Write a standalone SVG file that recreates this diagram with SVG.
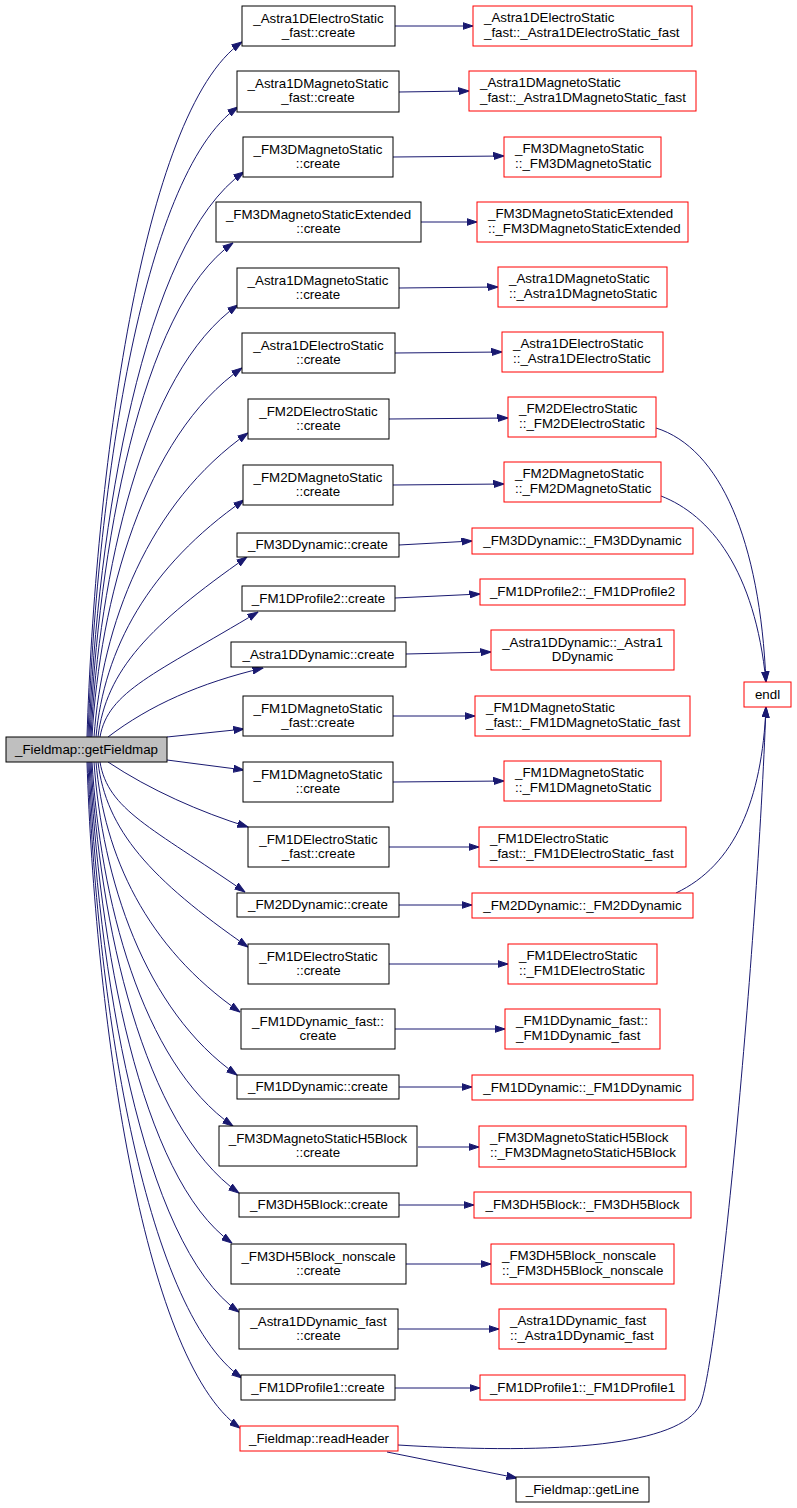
<svg xmlns="http://www.w3.org/2000/svg" width="797" height="1508" viewBox="0 0 797 1508">
<style>
text{font-family:"Liberation Sans",Arial,Helvetica,sans-serif;font-size:13.33px;fill:#000}
.c{text-anchor:middle}
.l{text-anchor:start}
.nb{fill:#fff;stroke:#000;stroke-width:1}
.nr{fill:#fff;stroke:#ff0000;stroke-width:1}
.root{fill:#bfbfbf;stroke:#000;stroke-width:1}
.e{fill:none;stroke:#191970;stroke-width:1;marker-end:url(#ah)}
</style>
<defs>
<marker id="ah" markerUnits="userSpaceOnUse" markerWidth="11" markerHeight="8" viewBox="0 0 11 8" refX="10.5" refY="4" orient="auto">
<path d="M0,0.5 L10.5,4 L0,7.5 z" fill="#191970" stroke="#191970" stroke-width="1"/>
</marker>
</defs>
<rect width="797" height="1508" fill="#fff"/>
<g id="connectors">
<path class="e" d="M87,737 C95,480 141,112 242,42"/>
<path class="e" d="M88,737 C96,504 140,175 238,107"/>
<path class="e" d="M89,737 C97,528 143,242 244,172"/>
<path class="e" d="M90,737 C98,554 140,308 233,243"/>
<path class="e" d="M91,737 C99,577 142,372 238,305"/>
<path class="e" d="M92,737 C100,600 144,436 242,368"/>
<path class="e" d="M94,737 C102,625 148,503 248,433"/>
<path class="e" d="M96,737 C104,649 148,567 244,500"/>
<path class="e" d="M98,737 C106,670 150,625 247,557"/>
<path class="e" d="M100,737 C108,691 155,674 258,612"/>
<path class="e" d="M108,737 C150,705 200,683 263,668"/>
<path class="e" d="M167,737 L244,729"/>
<path class="e" d="M167,760 L244,770"/>
<path class="e" d="M108,762 C150,790 200,812 248,827"/>
<path class="e" d="M100,762 C108,810 151,827 245,892"/>
<path class="e" d="M98,762 C106,830 150,879 248,947"/>
<path class="e" d="M96,762 C104,855 146,947 240,1012"/>
<path class="e" d="M94,762 C102,878 144,1010 237,1075"/>
<path class="e" d="M92,762 C100,897 141,1062 233,1126"/>
<path class="e" d="M91,762 C99,921 143,1126 239,1193"/>
<path class="e" d="M90,762 C98,940 140,1178 232,1243"/>
<path class="e" d="M89,762 C97,966 141,1244 239,1312"/>
<path class="e" d="M88,762 C96,990 142,1308 242,1378"/>
<path class="e" d="M87,762 C95,1008 141,1358 240,1428"/>
<path class="e" d="M395,26 L473,26"/>
<path class="e" d="M399,92 L469,91"/>
<path class="e" d="M393,157 L504,156"/>
<path class="e" d="M421,222 L477,222"/>
<path class="e" d="M399,288 L498,287"/>
<path class="e" d="M395,353 L502,352"/>
<path class="e" d="M389,419 L508,418"/>
<path class="e" d="M393,485 L504,484"/>
<path class="e" d="M399,545 L472,541"/>
<path class="e" d="M395,598 L480,594"/>
<path class="e" d="M406,654 L491,652"/>
<path class="e" d="M393,716 L475,716"/>
<path class="e" d="M393,782 L504,781"/>
<path class="e" d="M389,847 L479,847"/>
<path class="e" d="M399,905 L472,905"/>
<path class="e" d="M389,964 L508,964"/>
<path class="e" d="M395,1029 L505,1029"/>
<path class="e" d="M399,1087 L472,1087"/>
<path class="e" d="M418,1147 L479,1147"/>
<path class="e" d="M399,1205 L474,1205"/>
<path class="e" d="M406,1264 L491,1264"/>
<path class="e" d="M398,1329 L499,1329"/>
<path class="e" d="M395,1388 L480,1388"/>
<path class="e" d="M656,428 C720,448 760,540 766,682"/>
<path class="e" d="M661,496 C710,515 755,570 766,682"/>
<path class="e" d="M676,893 C735,865 762,800 766,707"/>
<path class="e" d="M398,1445 C560,1455 680,1445 700,1405 C718,1365 757,950 766,707"/>
<path class="e" d="M387,1452 L517,1478"/>
</g>
<g id="root"><rect class="root" x="6" y="737" width="161" height="25"/><text class="c" x="86.5" y="754">_Fieldmap::getFieldmap</text></g>
<g id="n1"><rect class="nb" x="242" y="6" width="153" height="40"/><text class="c" x="318.5" y="23">_Astra1DElectroStatic</text><text class="c" x="318.5" y="37">_fast::create</text></g>
<g id="n2"><rect class="nb" x="237" y="71" width="162" height="41"/><text class="c" x="318" y="88">_Astra1DMagnetoStatic</text><text class="c" x="318" y="102">_fast::create</text></g>
<g id="n3"><rect class="nb" x="243" y="137" width="150" height="40"/><text class="c" x="318" y="154">_FM3DMagnetoStatic</text><text class="c" x="318" y="168">::create</text></g>
<g id="n4"><rect class="nb" x="216" y="202" width="205" height="40"/><text class="c" x="318.5" y="219">_FM3DMagnetoStaticExtended</text><text class="c" x="318.5" y="233">::create</text></g>
<g id="n5"><rect class="nb" x="237" y="268" width="162" height="40"/><text class="c" x="318" y="285">_Astra1DMagnetoStatic</text><text class="c" x="318" y="299">::create</text></g>
<g id="n6"><rect class="nb" x="242" y="333" width="153" height="40"/><text class="c" x="318.5" y="350">_Astra1DElectroStatic</text><text class="c" x="318.5" y="364">::create</text></g>
<g id="n7"><rect class="nb" x="248" y="399" width="141" height="40"/><text class="c" x="318.5" y="416">_FM2DElectroStatic</text><text class="c" x="318.5" y="430">::create</text></g>
<g id="n8"><rect class="nb" x="243" y="465" width="150" height="40"/><text class="c" x="318" y="482">_FM2DMagnetoStatic</text><text class="c" x="318" y="496">::create</text></g>
<g id="n9"><rect class="nb" x="237" y="533" width="162" height="24"/><text class="c" x="318" y="549">_FM3DDynamic::create</text></g>
<g id="n10"><rect class="nb" x="242" y="586" width="153" height="25"/><text class="c" x="318.5" y="603">_FM1DProfile2::create</text></g>
<g id="n11"><rect class="nb" x="231" y="642" width="175" height="25"/><text class="c" x="318.5" y="659">_Astra1DDynamic::create</text></g>
<g id="n12"><rect class="nb" x="243" y="696" width="150" height="40"/><text class="c" x="318" y="713">_FM1DMagnetoStatic</text><text class="c" x="318" y="727">_fast::create</text></g>
<g id="n13"><rect class="nb" x="243" y="762" width="150" height="40"/><text class="c" x="318" y="779">_FM1DMagnetoStatic</text><text class="c" x="318" y="793">::create</text></g>
<g id="n14"><rect class="nb" x="248" y="827" width="141" height="40"/><text class="c" x="318.5" y="844">_FM1DElectroStatic</text><text class="c" x="318.5" y="858">_fast::create</text></g>
<g id="n15"><rect class="nb" x="237" y="893" width="162" height="24"/><text class="c" x="318" y="909">_FM2DDynamic::create</text></g>
<g id="n16"><rect class="nb" x="248" y="944" width="141" height="40"/><text class="c" x="318.5" y="961">_FM1DElectroStatic</text><text class="c" x="318.5" y="975">::create</text></g>
<g id="n17"><rect class="nb" x="241" y="1009" width="154" height="40"/><text class="c" x="318" y="1026">_FM1DDynamic_fast::</text><text class="c" x="318" y="1040">create</text></g>
<g id="n18"><rect class="nb" x="237" y="1075" width="162" height="24"/><text class="c" x="318" y="1091">_FM1DDynamic::create</text></g>
<g id="n19"><rect class="nb" x="219" y="1126" width="198" height="40"/><text class="c" x="318" y="1143">_FM3DMagnetoStaticH5Block</text><text class="c" x="318" y="1157">::create</text></g>
<g id="n20"><rect class="nb" x="239" y="1193" width="160" height="24"/><text class="c" x="319" y="1209">_FM3DH5Block::create</text></g>
<g id="n21"><rect class="nb" x="231" y="1244" width="175" height="40"/><text class="c" x="318.5" y="1261">_FM3DH5Block_nonscale</text><text class="c" x="318.5" y="1275">::create</text></g>
<g id="n22"><rect class="nb" x="239" y="1309" width="159" height="40"/><text class="c" x="318.5" y="1326">_Astra1DDynamic_fast</text><text class="c" x="318.5" y="1340">::create</text></g>
<g id="n23"><rect class="nb" x="241" y="1375" width="154" height="25"/><text class="c" x="318" y="1392">_FM1DProfile1::create</text></g>
<g id="n24"><rect class="nr" x="240" y="1426" width="158" height="25"/><text class="c" x="319" y="1443">_Fieldmap::readHeader</text></g>
<g id="r1"><rect class="nr" x="473" y="6" width="219" height="40"/><text class="l" x="484" y="22">_Astra1DElectroStatic</text><text class="l" x="484" y="37">_fast::_Astra1DElectroStatic_fast</text></g>
<g id="r2"><rect class="nr" x="469" y="71" width="227" height="40"/><text class="l" x="480" y="87">_Astra1DMagnetoStatic</text><text class="l" x="480" y="102">_fast::_Astra1DMagnetoStatic_fast</text></g>
<g id="r3"><rect class="nr" x="504" y="137" width="157" height="40"/><text class="l" x="515" y="153">_FM3DMagnetoStatic</text><text class="l" x="515" y="168">::_FM3DMagnetoStatic</text></g>
<g id="r4"><rect class="nr" x="477" y="202" width="211" height="40"/><text class="l" x="488" y="218">_FM3DMagnetoStaticExtended</text><text class="l" x="488" y="233">::_FM3DMagnetoStaticExtended</text></g>
<g id="r5"><rect class="nr" x="498" y="267" width="169" height="40"/><text class="l" x="509" y="283">_Astra1DMagnetoStatic</text><text class="l" x="509" y="298">::_Astra1DMagnetoStatic</text></g>
<g id="r6"><rect class="nr" x="502" y="332" width="161" height="40"/><text class="l" x="513" y="348">_Astra1DElectroStatic</text><text class="l" x="513" y="363">::_Astra1DElectroStatic</text></g>
<g id="r7"><rect class="nr" x="508" y="397" width="148" height="40"/><text class="l" x="519" y="413">_FM2DElectroStatic</text><text class="l" x="519" y="428">::_FM2DElectroStatic</text></g>
<g id="r8"><rect class="nr" x="504" y="462" width="157" height="40"/><text class="l" x="515" y="478">_FM2DMagnetoStatic</text><text class="l" x="515" y="493">::_FM2DMagnetoStatic</text></g>
<g id="r9"><rect class="nr" x="472" y="528" width="221" height="26"/><text class="c" x="582.5" y="545">_FM3DDynamic::_FM3DDynamic</text></g>
<g id="r10"><rect class="nr" x="480" y="579" width="205" height="26"/><text class="c" x="582.5" y="596">_FM1DProfile2::_FM1DProfile2</text></g>
<g id="r11"><rect class="nr" x="491" y="630" width="183" height="40"/><text class="c" x="582.5" y="647">_Astra1DDynamic::_Astra1</text><text class="c" x="582.5" y="661">DDynamic</text></g>
<g id="r12"><rect class="nr" x="475" y="696" width="215" height="40"/><text class="l" x="486" y="712">_FM1DMagnetoStatic</text><text class="l" x="486" y="727">_fast::_FM1DMagnetoStatic_fast</text></g>
<g id="r13"><rect class="nr" x="504" y="761" width="157" height="40"/><text class="l" x="515" y="777">_FM1DMagnetoStatic</text><text class="l" x="515" y="792">::_FM1DMagnetoStatic</text></g>
<g id="r14"><rect class="nr" x="479" y="827" width="207" height="40"/><text class="l" x="490" y="843">_FM1DElectroStatic</text><text class="l" x="490" y="858">_fast::_FM1DElectroStatic_fast</text></g>
<g id="r15"><rect class="nr" x="472" y="893" width="221" height="25"/><text class="c" x="582.5" y="910">_FM2DDynamic::_FM2DDynamic</text></g>
<g id="r16"><rect class="nr" x="508" y="944" width="149" height="40"/><text class="l" x="519" y="960">_FM1DElectroStatic</text><text class="l" x="519" y="975">::_FM1DElectroStatic</text></g>
<g id="r17"><rect class="nr" x="505" y="1009" width="155" height="40"/><text class="l" x="516" y="1025">_FM1DDynamic_fast::</text><text class="l" x="516" y="1040">_FM1DDynamic_fast</text></g>
<g id="r18"><rect class="nr" x="472" y="1075" width="221" height="25"/><text class="c" x="582.5" y="1092">_FM1DDynamic::_FM1DDynamic</text></g>
<g id="r19"><rect class="nr" x="479" y="1126" width="207" height="41"/><text class="l" x="490" y="1142">_FM3DMagnetoStaticH5Block</text><text class="l" x="490" y="1157">::_FM3DMagnetoStaticH5Block</text></g>
<g id="r20"><rect class="nr" x="474" y="1192" width="217" height="26"/><text class="c" x="582.5" y="1209">_FM3DH5Block::_FM3DH5Block</text></g>
<g id="r21"><rect class="nr" x="491" y="1244" width="183" height="40"/><text class="l" x="502" y="1260">_FM3DH5Block_nonscale</text><text class="l" x="502" y="1275">::_FM3DH5Block_nonscale</text></g>
<g id="r22"><rect class="nr" x="499" y="1309" width="167" height="40"/><text class="l" x="510" y="1325">_Astra1DDynamic_fast</text><text class="l" x="510" y="1340">::_Astra1DDynamic_fast</text></g>
<g id="r23"><rect class="nr" x="480" y="1375" width="205" height="25"/><text class="c" x="582.5" y="1392">_FM1DProfile1::_FM1DProfile1</text></g>
<g id="endl"><rect class="nr" x="744" y="682" width="47" height="25"/><text class="c" x="767.5" y="699">endl</text></g>
<g id="getLine"><rect class="nb" x="516" y="1477" width="133" height="25"/><text class="c" x="582.5" y="1494">_Fieldmap::getLine</text></g>
</svg>
